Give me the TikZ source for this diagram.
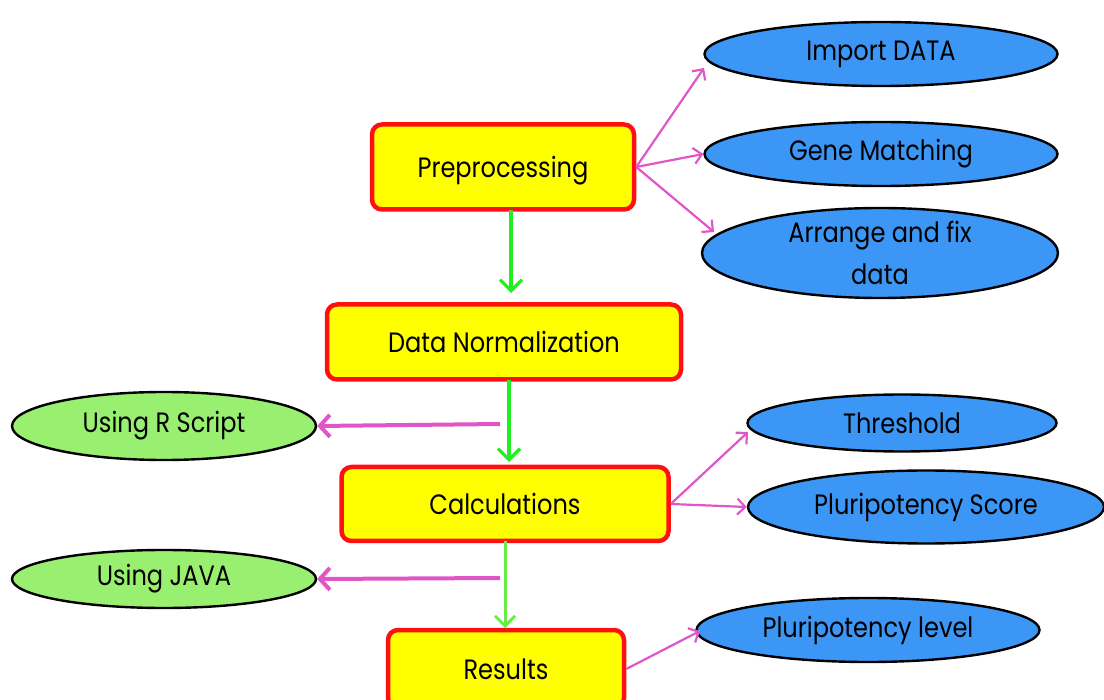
\documentclass[tikz,border=0pt]{standalone}
\usepackage{fontspec}
\setmainfont{Poppins}[FakeStretch=0.86]
\usetikzlibrary{shapes.geometric,arrows.meta}
\definecolor{boxyellow}{HTML}{FFFF00}
\definecolor{boxred}{HTML}{FF1010}
\definecolor{ellblue}{HTML}{3C96F5}
\definecolor{ellgreen}{HTML}{99F070}
\definecolor{arrgreen}{HTML}{22EE22}
\definecolor{arrgreen2}{HTML}{66EE44}
\definecolor{arrmag}{HTML}{E055C8}
\tikzset{
  stepbox/.style={draw=boxred, line width=4.5pt, fill=boxyellow, rounded corners=10pt, minimum height=#1, inner sep=0pt, text depth=0pt, font=\fontsize{28}{32}\selectfont},
  blueell/.style={ellipse, draw=black, line width=2.4pt, fill=ellblue, inner sep=0pt, font=\fontsize{28}{42}\selectfont, align=center},
  greenell/.style={ellipse, draw=black, line width=2.4pt, fill=ellgreen, inner sep=0pt, font=\fontsize{28}{32}\selectfont},
  garrow/.style={draw=arrgreen, line width=3.2pt, -{Straight Barb[length=11pt,width=22pt,line width=3.2pt]}},
  garrowb/.style={draw=arrgreen2, line width=3pt, -{Straight Barb[length=10pt,width=20pt,line width=3pt]}},
  marrow/.style={draw=arrmag, line width=2.2pt, -{Straight Barb[length=8pt,width=16pt,line width=2.2pt]}},
  marrowt/.style={draw=arrmag, line width=4pt, -{Straight Barb[length=10pt,width=22pt,line width=4pt]}},
}
\begin{document}
\begin{tikzpicture}[x=1pt,y=-1pt]
\useasboundingbox (0,0) rectangle (1104,700);
\begin{scope}
\clip (0,0) rectangle (1104,700);
% boxes
\node[stepbox=85pt, minimum width=262pt] (pre) at (503,167) {Preprocessing};
\node[stepbox=75pt, minimum width=354pt] (norm) at (504,342) {Data Normalization};
\node[stepbox=74pt, minimum width=327pt] (calc) at (505,504) {Calculations};
\node[stepbox=78pt, minimum width=236pt] (res) at (506,669) {Results};
% blue ellipses
\node[blueell, minimum width=353pt, minimum height=64pt] (imp) at (881,54) {Import DATA};
\node[blueell, minimum width=353pt, minimum height=64pt] (gene) at (881,154) {Gene Matching};
\node[blueell, minimum width=356pt, minimum height=86pt] (arr) at (880,253) {Arrange and fix\\data};
\node[blueell, minimum width=309pt, minimum height=57pt] (thr) at (902,423) {Threshold};
\node[blueell, minimum width=356pt, minimum height=73pt] (score) at (926,507) {Pluripotency Score};
\node[blueell, minimum width=343pt, minimum height=64pt] (lvl) at (868,630) {Pluripotency level};
% green ellipses
\node[greenell, minimum width=304pt, minimum height=68pt] (rs) at (164,426) {Using R Script};
\node[greenell, minimum width=304pt, minimum height=58pt] (java) at (164,579) {Using JAVA};
% coordinates
\coordinate (rsfrom) at (500,424);
\coordinate (javafrom) at (500,578);
% arrows
\draw[garrow] (511,210) -- (511,293);
\draw[garrow] (509,380) -- (509,462);
\draw[garrowb] (505,541) -- (505,628);
\draw[marrowt] (rsfrom) -- (rs.east);
\draw[marrowt] (javafrom) -- (java.east);
\draw[marrow] (pre.east) -- (704,68);
\draw[marrow] (pre.east) -- (gene.west);
\draw[marrow] (pre.east) -- (714,232);
\draw[marrow] (calc.east) -- (748,432);
\draw[marrow] (calc.east) -- (score.west);
\draw[marrow] (res.east) -- (700,631);
\end{scope}
\end{tikzpicture}
\end{document}
